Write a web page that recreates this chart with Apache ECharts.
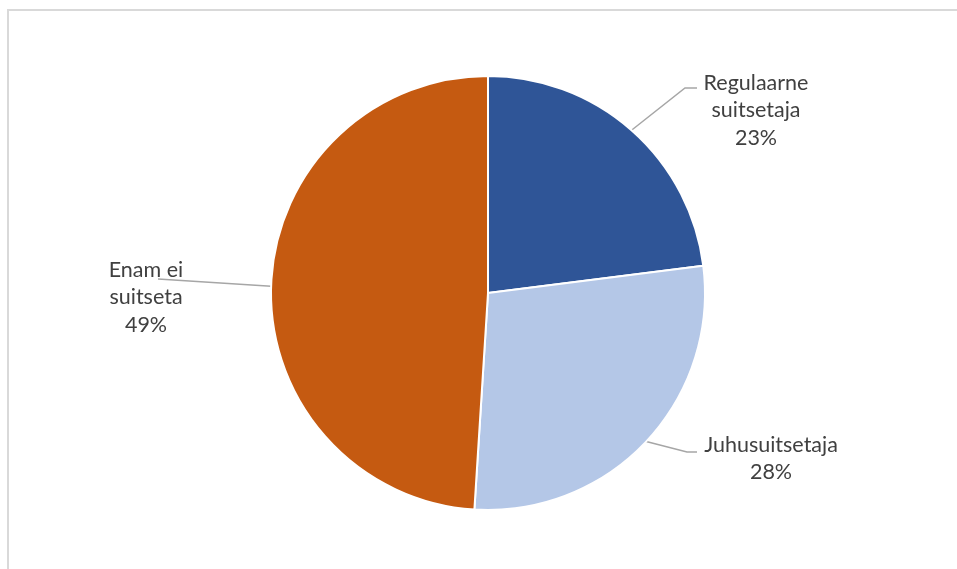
<!DOCTYPE html>
<html>
<head>
<meta charset="utf-8">
<script src="https://cdn.jsdelivr.net/npm/echarts@6/dist/echarts.min.js"></script>
<style>html,body{margin:0;padding:0;background:#fff}#c{width:957px;height:569px}</style>
</head>
<body>
<div id="c"></div>
<script>
// Data
const categories = ['Regulaarne suitsetaja', 'Juhusuitsetaja', 'Enam ei suitseta'];
const labelNames = ['Regulaarne\nsuitsetaja', 'Juhusuitsetaja', 'Enam ei\nsuitseta'];
const values = [23, 28, 49];
const colors = ['#2F5597', '#B4C7E7', '#C55A11'];

// Label layout (text block centre x, first-line centre y, leader end point)
const labelAnchors = [
  { cx: 756, y: 83, endX: 697, endY: 88, knee: 12 },
  { cx: 771, y: 445, endX: 697, endY: 452, knee: 10 },
  { cx: 146, y: 270, endX: 158, endY: 279, knee: 0 }
];
const LINE_H = 27.5;

const chart = echarts.init(document.getElementById('c'), null, { renderer: 'canvas' });

const option = {
  backgroundColor: '#ffffff',
  animation: false,
  graphic: [{
    type: 'rect',
    shape: { x: 8, y: 10, width: 2000, height: 2000 },
    style: { fill: 'none', stroke: '#d9d9d9', lineWidth: 2 },
    silent: true
  }],
  series: [{
    type: 'pie',
    center: [488, 293],
    radius: 217,
    startAngle: 90,
    clockwise: true,
    data: categories.map((c, i) => ({ name: c, value: values[i], itemStyle: { color: colors[i] } })),
    itemStyle: { borderColor: '#ffffff', borderWidth: 2 },
    label: {
      show: true,
      position: 'outside',
      formatter: p => labelNames[p.dataIndex] + '\n' + Math.round(p.percent) + '%',
      fontFamily: 'Lato',
      fontSize: 21.5,
      lineHeight: LINE_H,
      color: '#404040',
      align: 'center'
    },
    labelLine: {
      show: true,
      lineStyle: { color: '#a6a6a6', width: 1.5 }
    },
    labelLayout: function (params) {
      const a = labelAnchors[params.dataIndex];
      const edge = params.labelLinePoints ? params.labelLinePoints[0] : [a.endX, a.endY];
      const dir = a.cx > 488 ? -1 : 1;
      return {
        x: a.cx,
        y: a.y - LINE_H / 2,
        align: 'center',
        verticalAlign: 'top',
        labelLinePoints: [edge, [a.endX + dir * a.knee, a.endY], [a.endX, a.endY]]
      };
    }
  }]
};
chart.setOption(option);
</script>
</body>
</html>
